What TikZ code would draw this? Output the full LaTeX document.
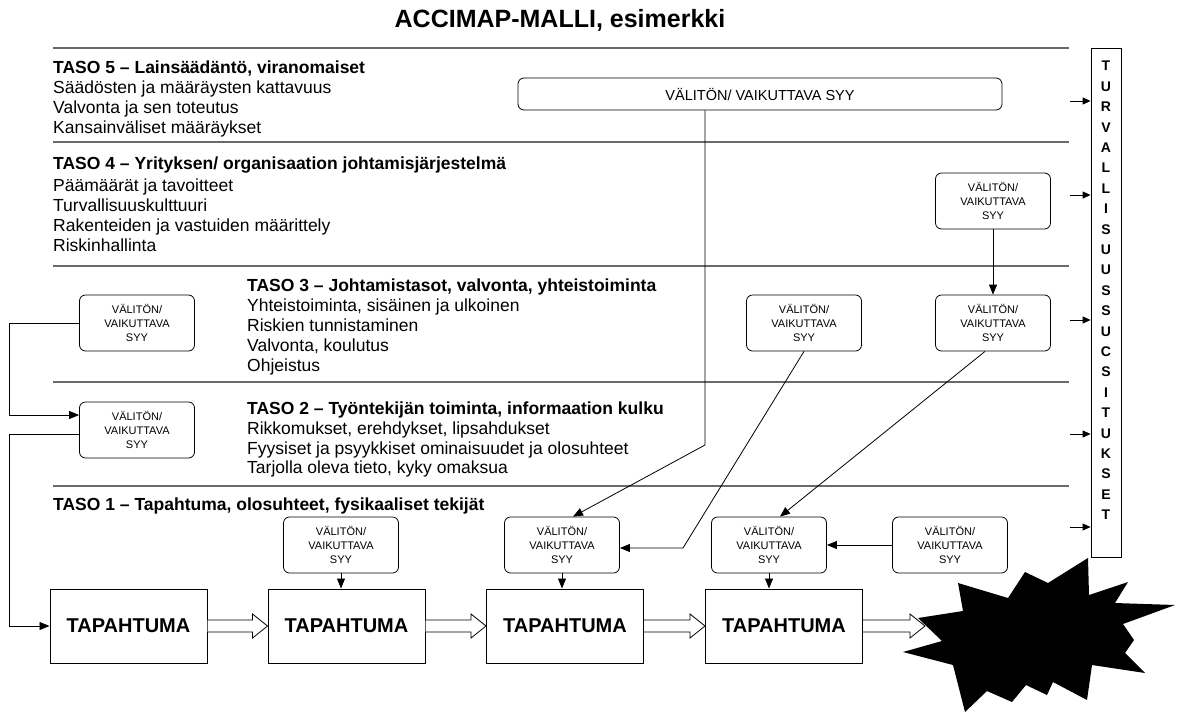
\documentclass[tikz,border=0pt]{standalone}
\usepackage{fontspec}
\setmainfont{Liberation Sans}
\usetikzlibrary{arrows.meta}
\definecolor{sepgray}{HTML}{6a6a6a}
\begin{document}
\begin{tikzpicture}[x=1pt,y=-1pt,
  sepline/.style={draw=sepgray,line width=1.2pt},
  topline/.style={draw=sepgray,line width=2.2pt},
  cause/.style={draw,line width=0.8pt,rounded corners=6pt,minimum width=115pt,minimum height=56pt,align=center,inner sep=0pt,font=\fontsize{11}{14}\selectfont},
  bigcause/.style={draw,line width=0.8pt,rounded corners=6pt,minimum width=484pt,minimum height=32pt,inner sep=0pt,font=\fontsize{14.5}{16}\selectfont},
  event/.style={draw,line width=1pt,minimum width=157pt,minimum height=74pt,inner sep=0pt,font=\bfseries\fontsize{20}{24}\selectfont},
  arr/.style={-{Triangle[length=10pt,width=8pt]},line width=0.8pt},
  sarr/.style={-{Triangle[length=8pt,width=7pt]},line width=0.8pt},
  hollow/.style={draw,line width=0.8pt,fill=white},
  lvl/.style={anchor=base west,inner sep=0pt,font=\fontsize{17.5}{20}\selectfont},
  hdr/.style={anchor=base west,inner sep=0pt,font=\bfseries\fontsize{17.5}{20}\selectfont}
]
\useasboundingbox (0,0) rectangle (1178,713);

% title
\node[font=\bfseries\fontsize{25}{28}\selectfont] (title) at (560,20) {ACCIMAP-MALLI, esimerkki};

% separators
\draw[topline] (53,48) -- (1069,48);
\draw[sepline] (53,142) -- (1069,142);
\draw[sepline] (53,266) -- (1069,266);
\draw[sepline] (53,382) -- (1069,382);
\draw[sepline] (53,486) -- (1069,486);

% level texts
\node[hdr] (h5) at (53,73) {TASO 5 – Lainsäädäntö, viranomaiset};
\node[lvl] (t5a) at (53,93) {Säädösten ja määräysten kattavuus};
\node[lvl] (t5b) at (53,113) {Valvonta ja sen toteutus};
\node[lvl] (t5c) at (53,133) {Kansainväliset määräykset};

\node[hdr] (h4) at (53,169) {TASO 4 – Yrityksen/ organisaation johtamisjärjestelmä};
\node[lvl] (t4a) at (53,191) {Päämäärät ja tavoitteet};
\node[lvl] (t4b) at (53,211) {Turvallisuuskulttuuri};
\node[lvl] (t4c) at (53,231) {Rakenteiden ja vastuiden määrittely};
\node[lvl] (t4d) at (53,251) {Riskinhallinta};

\node[hdr] (h3) at (247,291) {TASO 3 – Johtamistasot, valvonta, yhteistoiminta};
\node[lvl] (t3a) at (247,311) {Yhteistoiminta, sisäinen ja ulkoinen};
\node[lvl] (t3b) at (247,331) {Riskien tunnistaminen};
\node[lvl] (t3c) at (247,351) {Valvonta, koulutus};
\node[lvl] (t3d) at (247,371) {Ohjeistus};

\node[hdr] (h2) at (247,414) {TASO 2 – Työntekijän toiminta, informaation kulku};
\node[lvl] (t2a) at (247,434) {Rikkomukset, erehdykset, lipsahdukset};
\node[lvl] (t2b) at (247,454) {Fyysiset ja psyykkiset ominaisuudet ja olosuhteet};
\node[lvl] (t2c) at (247,473) {Tarjolla oleva tieto, kyky omaksua};

\node[hdr] (h1) at (53,510) {TASO 1 – Tapahtuma, olosuhteet, fysikaaliset tekijät};

% cause boxes
\node[bigcause] (big) at (760,94) {VÄLITÖN/ VAIKUTTAVA SYY};
\node[cause] (c4) at (993,201) {VÄLITÖN/\\VAIKUTTAVA\\SYY};
\node[cause] (c3L) at (137,323) {VÄLITÖN/\\VAIKUTTAVA\\SYY};
\node[cause] (c3M) at (804,323) {VÄLITÖN/\\VAIKUTTAVA\\SYY};
\node[cause] (c3R) at (993,323) {VÄLITÖN/\\VAIKUTTAVA\\SYY};
\node[cause] (c2L) at (137,430) {VÄLITÖN/\\VAIKUTTAVA\\SYY};
\node[cause] (c1a) at (341,545) {VÄLITÖN/\\VAIKUTTAVA\\SYY};
\node[cause] (c1b) at (562,545) {VÄLITÖN/\\VAIKUTTAVA\\SYY};
\node[cause] (c1c) at (769,545) {VÄLITÖN/\\VAIKUTTAVA\\SYY};
\node[cause] (c1d) at (950,545) {VÄLITÖN/\\VAIKUTTAVA\\SYY};

% event boxes
\node[event] (e1) at (128.5,626) {TAPAHTUMA};
\node[event] (e2) at (346.5,626) {TAPAHTUMA};
\node[event] (e3) at (565,626) {TAPAHTUMA};
\node[event] (e4) at (784,626) {TAPAHTUMA};

% starburst
\fill[black] (918,618) -- (963,611) -- (958,583) -- (1008,598) -- (1025,572) -- (1048,583)
  -- (1088,558) -- (1089,595) -- (1128,582) -- (1115,603) -- (1175,605) -- (1123,624)
  -- (1134,640) -- (1125,653) -- (1145,673) -- (1092,665) -- (1087,700) -- (1053,682)
  -- (1047,695) -- (1026,685) -- (1012,702) -- (987,691) -- (965,712) -- (953,665)
  -- (903,652) -- (942,641) -- cycle;

% hollow arrows between events
\coordinate (btip) at (925,626);
\foreach \a/\b in {e1/e2,e2/e3,e3/e4}{
  \draw[hollow] ([yshift=6pt]\a.east) -- ([xshift=-15pt,yshift=6pt]\b.west) -- ([xshift=-15pt,yshift=12pt]\b.west)
    -- (\b.west) -- ([xshift=-15pt,yshift=-12pt]\b.west) -- ([xshift=-15pt,yshift=-6pt]\b.west) -- ([yshift=-6pt]\a.east);
}
\draw[hollow] ([yshift=6pt]e4.east) -- ([xshift=-15pt,yshift=6pt]btip) -- ([xshift=-15pt,yshift=12pt]btip)
    -- (btip) -- ([xshift=-15pt,yshift=-12pt]btip) -- ([xshift=-15pt,yshift=-6pt]btip) -- ([yshift=-6pt]e4.east);

% recommendation box
\node[draw,line width=0.8pt,minimum width=30pt,minimum height=509pt,anchor=north,inner sep=0pt] (rec) at (1106,48) {};
\node[anchor=north,inner sep=0pt,align=center,font=\bfseries\fontsize{14}{20.4}\selectfont] (rectext) at (1106,61)
  {T\\U\\R\\V\\A\\L\\L\\I\\S\\U\\U\\S\\S\\U\\C\\S\\I\\T\\U\\K\\S\\E\\T};

% arrows into recommendation box
\foreach \yy [count=\i] in {101,195,320,434,527}{
  \coordinate (r\i) at (1070,\yy);
  \draw[sarr] (r\i) -- (rec.west |- r\i);
}

% connectors
\coordinate (k1) at (705,445);
\draw[arr] (big.south -| k1) -- (k1) -- ([xshift=11pt]c1b.north);
\coordinate (k2) at (683,548);
\draw[arr] (c3M.south) -- (k2) -- (c1b.east |- k2);
\draw[arr] ([xshift=-8pt]c3R.south) -- ([xshift=11pt]c1c.north);
\draw[arr] (c1d.west) -- (c1c.east);
\draw[arr] (c4.south) -- (c3R.north);
\draw[arr] (c1a.south) -- (e2.north -| c1a.south);
\draw[arr] (c1b.south) -- (e3.north -| c1b.south);
\draw[arr] (c1c.south) -- (e4.north -| c1c.south);

\coordinate (lx) at (9,0);
\coordinate (k4) at (0,415);
\coordinate (k5) at (0,434);
\draw[arr] (c3L.west) -- (c3L.west -| lx) -- (lx |- k4) -- (c2L.west |- k4);
\draw[arr] (c2L.west |- k5) -- (lx |- k5) -- (lx |- e1.west) -- (e1.west);
\end{tikzpicture}
\end{document}
